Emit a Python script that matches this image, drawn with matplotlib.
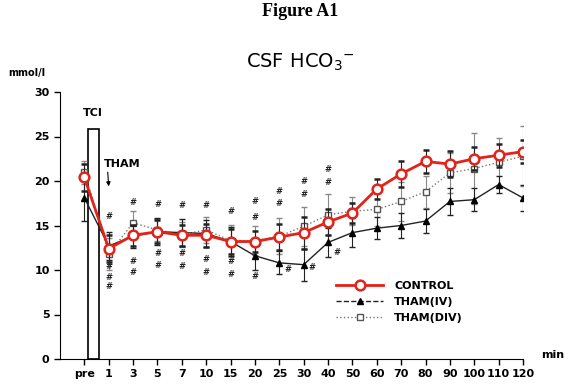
import matplotlib.pyplot as plt
from matplotlib.lines import Line2D
import numpy as np

# time points (min)
labels = ['pre', '1', '3', '5', '7', '10', '15', '20', '25', '30',
          '40', '50', '60', '70', '80', '90', '100', '110', '120']

control = [20.4, 12.4, 13.9, 14.3, 13.9, 13.9, 13.2, 13.2, 13.7, 14.2,
           15.4, 16.4, 19.1, 20.8, 22.2, 21.9, 22.5, 22.9, 23.3]
control_err = [1.5, 1.5, 1.2, 1.3, 1.2, 1.3, 1.4, 1.2, 1.5, 1.8,
               1.5, 1.1, 1.1, 1.5, 1.3, 1.5, 1.3, 1.3, 1.3]

tham_iv = [18.1, 12.7, 13.8, 14.3, 14.2, 14.1, 13.2, 11.6, 10.8, 10.6,
           13.1, 14.2, 14.7, 15.0, 15.5, 17.7, 17.9, 19.6, 18.1]
tham_iv_err = [2.6, 1.6, 1.3, 1.5, 1.5, 1.5, 1.6, 1.6, 1.3, 1.8,
               1.6, 1.6, 1.2, 1.4, 1.3, 1.5, 1.3, 1.0, 1.5]

tham_div = [21.0, 11.8, 15.3, 14.5, 14.0, 14.5, 13.3, 13.3, 13.8, 14.9,
            16.2, 16.6, 16.8, 17.7, 18.8, 20.9, 21.4, 22.1, 22.8]
tham_div_err = [1.3, 1.8, 1.3, 1.2, 1.4, 1.5, 1.8, 1.6, 2.0, 2.2,
                2.3, 1.6, 1.8, 2.2, 1.8, 2.3, 4.0, 2.7, 3.4]

# significance marks (#) per time point: y values above / below
hash_above = {1: [16.0], 2: [17.6], 3: [17.4], 4: [17.3], 5: [17.3],
              6: [16.6], 7: [17.7, 15.9], 8: [18.8, 17.5], 9: [19.9, 18.5],
              10: [21.3, 19.8]}
hash_below = {1: [10.4, 9.2, 8.1], 2: [10.9, 9.7], 3: [11.9, 10.5],
              4: [11.9, 10.4], 5: [11.2, 9.7], 6: [10.9, 9.5], 7: [9.3]}
hash_side = {8: 10.0, 9: 10.3, 10: 12.0}

x = np.arange(len(labels))

red = '#e2231a'

fig = plt.figure(figsize=(5.75, 3.85), dpi=100)
ax = fig.add_axes([60 / 575, 26 / 385, 463 / 575, 267 / 385])

# TCI bar
ax.bar(0.37, 25.8, width=0.42, bottom=0, color='white', edgecolor='black',
       linewidth=1.2, zorder=2)
ax.text(0.35, 27.1, 'TCI', ha='center', va='bottom', fontsize=8,
        fontweight='bold')
ax.annotate('THAM', xy=(1, 19.4), xytext=(0.8, 21.3), fontsize=8,
            fontweight='bold', ha='left', va='bottom',
            arrowprops=dict(arrowstyle='-|>', color='black', lw=0.8,
                            mutation_scale=6, shrinkA=0, shrinkB=0,
                            relpos=(0.1, 0)))

ax.errorbar(x, tham_div, yerr=tham_div_err, color='#777777', ls=':', lw=1.0,
            marker='s', ms=5, mfc='white', mec='#555555', capsize=2,
            elinewidth=0.8, ecolor='#888888', zorder=3)
ax.errorbar(x, tham_iv, yerr=tham_iv_err, color='#222222', ls='-', lw=1.0,
            marker='^', ms=5, mfc='black', mec='black', capsize=2,
            elinewidth=0.8, ecolor='#222222', zorder=4)
ax.errorbar(x, control, yerr=control_err, color=red, ls='-', lw=2.0,
            marker='o', ms=7, mfc='white', mec=red, mew=1.8, capsize=2,
            elinewidth=0.8, ecolor='#222222', zorder=5)

for i, ys in hash_above.items():
    for y in ys:
        ax.text(i, y, '#', ha='center', va='center', fontsize=6,
                fontweight='bold', color='#222222')
for i, ys in hash_below.items():
    for y in ys:
        ax.text(i, y, '#', ha='center', va='center', fontsize=6,
                fontweight='bold', color='#222222')
for i, y in hash_side.items():
    ax.text(i + 0.35, y, '#', ha='center', va='center', fontsize=6,
            fontweight='bold', color='#222222')

ax.set_xlim(-1, 18)
ax.set_ylim(0, 30)
ax.set_xticks(x)
ax.set_xticklabels(labels)
ax.set_yticks([0, 5, 10, 15, 20, 25, 30])
ax.spines['top'].set_visible(False)
ax.spines['right'].set_visible(False)
ax.tick_params(direction='out', length=4, width=1, labelsize=8)
for t in ax.get_xticklabels() + ax.get_yticklabels():
    t.set_fontweight('bold')

handles = [
    Line2D([], [], color=red, lw=2.0, marker='o', ms=7, mfc='white',
           mec=red, mew=1.8),
    Line2D([], [], color='#222222', lw=1.0, ls='--', marker='^', ms=5,
           mfc='black', mec='black'),
    Line2D([], [], color='#777777', lw=1.0, ls=':', marker='s', ms=5,
           mfc='white', mec='#555555'),
]
ax.legend(handles, ['CONTROL', 'THAM(IV)', 'THAM(DIV)'],
          loc='upper left', bbox_to_anchor=(0.575, 0.33), frameon=False,
          handlelength=4.2, labelspacing=0.55, handletextpad=1.0,
          prop={'weight': 'bold', 'size': 8})

fig.text(300 / 575, 1 - 12 / 385, 'Figure A1', ha='center', va='center',
         fontsize=13, fontweight='bold', family='Liberation Serif')
fig.text(300 / 575, 1 - 62 / 385, r'CSF HCO$_3$$^{-}$', ha='center',
         va='center', fontsize=14)
fig.text(8 / 575, 1 - 73 / 385, 'mmol/l', ha='left', va='center',
         fontsize=7, fontweight='bold')
fig.text(553 / 575, 1 - 355 / 385, 'min', ha='center', va='center',
         fontsize=8, fontweight='bold')

fig.savefig('out.png', dpi=100)
